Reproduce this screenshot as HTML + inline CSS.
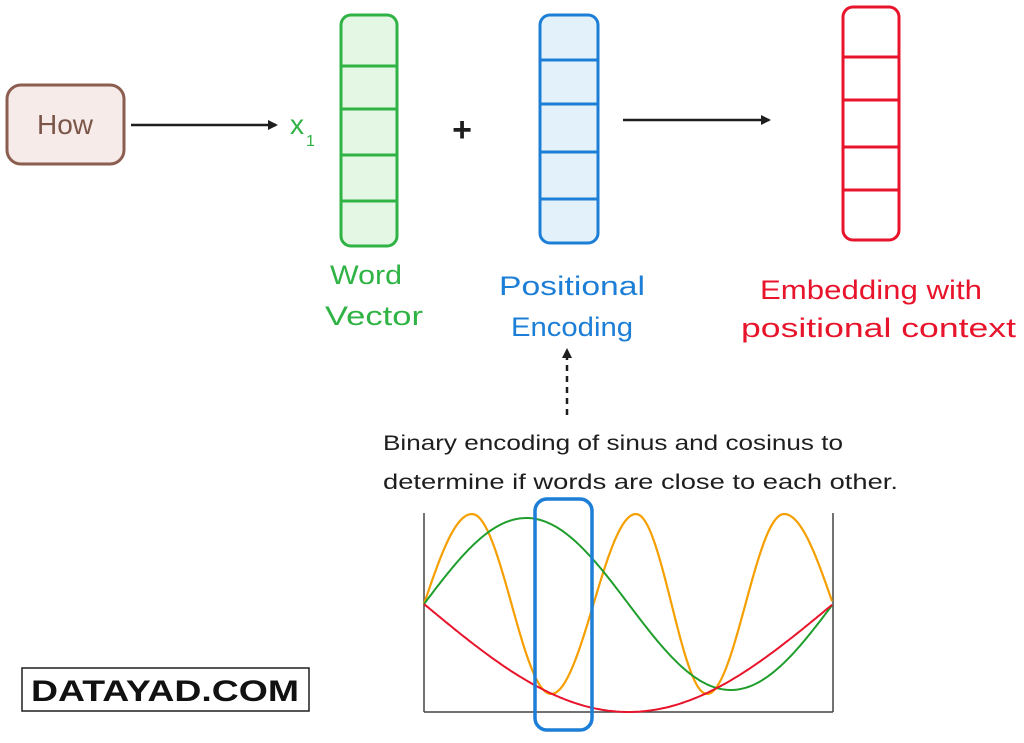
<!DOCTYPE html>
<html><head><meta charset="utf-8"><style>
body{margin:0;background:#fff;width:1024px;height:738px;overflow:hidden;font-family:"Liberation Sans",sans-serif}
</style></head><body>
<svg id="s" width="1024" height="738" viewBox="0 0 1024 738" xmlns="http://www.w3.org/2000/svg">
<defs><marker id="ah" markerWidth="10" markerHeight="10" refX="8" refY="5" orient="auto" markerUnits="userSpaceOnUse"><path d="M0,0 L10,5 L0,10 z" fill="#1e1e1e"/></marker></defs>
<rect x="7" y="85" width="117" height="79" rx="14" fill="#f6ebe8" stroke="#8b5e4f" stroke-width="3"/>
<text x="65" y="134" font-size="28" fill="#7a5548" text-anchor="middle">How</text>
<line x1="131" y1="125" x2="276" y2="125" stroke="#1e1e1e" stroke-width="2.5" marker-end="url(#ah)"/>
<text x="290" y="134" font-size="28" fill="#2fb344">x</text><text x="306" y="146" font-size="16" fill="#2fb344">1</text>
<rect x="341" y="15" width="56" height="231" rx="10" fill="#e4f7e4" stroke="#2fb344" stroke-width="3"/>
<g stroke="#2fb344" stroke-width="3"><line x1="341" y1="66" x2="397" y2="66"/><line x1="341" y1="109" x2="397" y2="109"/><line x1="341" y1="155" x2="397" y2="155"/><line x1="341" y1="201" x2="397" y2="201"/></g>
<text x="462" y="141" font-size="34" font-weight="bold" fill="#1e1e1e" text-anchor="middle">+</text>
<rect x="540" y="15" width="58" height="228" rx="10" fill="#e3f1fb" stroke="#1c7ed6" stroke-width="3"/>
<g stroke="#1c7ed6" stroke-width="3"><line x1="540" y1="60" x2="598" y2="60"/><line x1="540" y1="104" x2="598" y2="104"/><line x1="540" y1="152" x2="598" y2="152"/><line x1="540" y1="199" x2="598" y2="199"/></g>
<line x1="623" y1="120" x2="769" y2="120" stroke="#1e1e1e" stroke-width="2.5" marker-end="url(#ah)"/>
<rect x="843" y="7" width="56" height="233" rx="10" fill="#fff" stroke="#e8142b" stroke-width="3"/>
<g stroke="#e8142b" stroke-width="3"><line x1="843" y1="57" x2="899" y2="57"/><line x1="843" y1="100" x2="899" y2="100"/><line x1="843" y1="147" x2="899" y2="147"/><line x1="843" y1="190" x2="899" y2="190"/></g>
<g font-size="27">
<text x="330" y="284" fill="#2fb344" textLength="72" lengthAdjust="spacingAndGlyphs">Word</text>
<text x="325" y="325" fill="#2fb344" textLength="98" lengthAdjust="spacingAndGlyphs">Vector</text>
<text x="499" y="295" fill="#1c7ed6" textLength="146" lengthAdjust="spacingAndGlyphs">Positional</text>
<text x="511" y="336" fill="#1c7ed6" textLength="122" lengthAdjust="spacingAndGlyphs">Encoding</text>
<text x="760" y="299" fill="#e8142b" textLength="222" lengthAdjust="spacingAndGlyphs">Embedding with</text>
<text x="741" y="337" fill="#e8142b" textLength="275" lengthAdjust="spacingAndGlyphs">positional context</text>
</g>
<line x1="567" y1="415" x2="567" y2="350" stroke="#1e1e1e" stroke-width="2.5" stroke-dasharray="6 5" marker-end="url(#ah)"/>
<g font-size="21" fill="#1e1e1e"><text x="383" y="450" textLength="460" lengthAdjust="spacingAndGlyphs">Binary encoding of sinus and cosinus to</text><text x="383" y="489" textLength="515" lengthAdjust="spacingAndGlyphs">determine if words are close to each other.</text></g>
<line x1="424" y1="513" x2="424" y2="712" stroke="#444" stroke-width="1.5"/>
<line x1="833" y1="513" x2="833" y2="712" stroke="#444" stroke-width="1.5"/>
<line x1="424" y1="712" x2="833" y2="712" stroke="#444" stroke-width="1.5"/>
<path id="or" fill="none" stroke="#f59f00" stroke-width="2.2"/>
<path id="gr" fill="none" stroke="#1f9e2c" stroke-width="2"/>
<path id="rd" fill="none" stroke="#e8142b" stroke-width="2"/>
<rect x="535" y="499" width="57" height="231" rx="12" fill="none" stroke="#1c7ed6" stroke-width="3.5"/>
<rect x="22" y="668" width="287" height="43" fill="#fff" stroke="#1e1e1e" stroke-width="1.5"/>
<text x="31" y="701" font-size="30" font-weight="bold" fill="#111" textLength="268" lengthAdjust="spacingAndGlyphs">DATAYAD.COM</text>
</svg>
<script>
function mk(f){var d="";for(var x=424;x<=833;x+=2){d+=(x==424?"M":"L")+x+","+f(x).toFixed(1)+" ";}return d;}
var W=409,P=Math.PI;
var kx=[424,472,551,636,707,784,833],kp=[0,P/2,3*P/2,5*P/2,7*P/2,9*P/2,5*P];
function ph(x){for(var i=0;i<kx.length-1;i++){if(x<=kx[i+1]){var t=(x-kx[i])/(kx[i+1]-kx[i]);return kp[i]+t*(kp[i+1]-kp[i]);}}return 5*P;}
document.getElementById("or").setAttribute("d",mk(function(x){return 604-90*Math.sin(ph(x));}));
document.getElementById("gr").setAttribute("d",mk(function(x){return 604-86*Math.sin(2*Math.PI*(x-424)/W);}));
document.getElementById("rd").setAttribute("d",mk(function(x){return 604+108*Math.sin(Math.PI*(x-424)/W);}));
</script>
</body></html>
